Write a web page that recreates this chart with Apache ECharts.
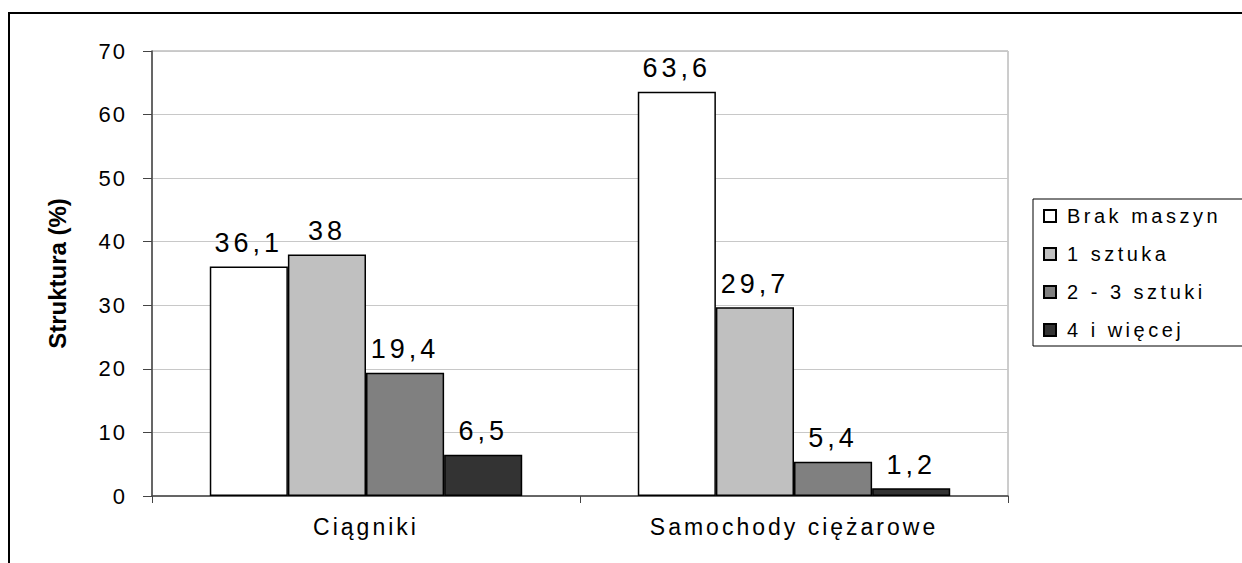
<!DOCTYPE html>
<html><head><meta charset="utf-8">
<script src="https://cdn.jsdelivr.net/npm/echarts@6/dist/echarts.min.js"></script>
<style>
html,body{margin:0;padding:0;background:#fff}#c{width:1242px;height:563px}
#c text[style*="27px"]{letter-spacing:4px}
#c text[style*="23px"]{letter-spacing:3px}
#c text[style*="22px"]{letter-spacing:2px}
#c text[style*="20px"]{letter-spacing:3.5px}
</style>
</head><body><div id="c"></div>
<script>
const categories = ['Ciągniki', 'Samochody ciężarowe'];
const seriesNames = ['Brak maszyn', '1 sztuka', '2 - 3 sztuki', '4 i więcej'];
const brakMaszyn = [36.1, 63.6];
const jednaSztuka = [38, 29.7];
const dwieTrzySztuki = [19.4, 5.4];
const czteryIWiecej = [6.5, 1.2];
const yTicks = [0, 10, 20, 30, 40, 50, 60, 70];

const values = [brakMaszyn, jednaSztuka, dwieTrzySztuki, czteryIWiecej];
const colors = ['#FFFFFF', '#C0C0C0', '#808080', '#333333'];
const font = 'Liberation Sans, Arial, sans-serif';

const chart = echarts.init(document.getElementById('c'), null, {renderer: 'svg'});
chart.setOption({
  animation: false,
  backgroundColor: '#fff',
  graphic: [{
    type: 'rect', z: -1, silent: true,
    shape: {x: 9, y: 13, width: 1300, height: 600},
    style: {fill: 'none', stroke: '#000', lineWidth: 2}
  }],
  grid: {left: 152, right: 234, top: 51, bottom: 67, containLabel: false,
         show: true, borderWidth: 1, borderColor: '#9A9A9A'},
  legend: {
    orient: 'vertical', left: 1033, top: 199,
    padding: [7, 80, 6, 10],
    itemGap: 18, itemWidth: 12, itemHeight: 12,
    borderColor: '#000', borderWidth: 1,
    icon: 'rect',
    data: seriesNames,
    textStyle: {fontFamily: font, fontSize: 20, color: '#000', padding: [0, 0, 0, 6]}
  },
  xAxis: {
    type: 'category', data: categories,
    axisLine: {lineStyle: {color: '#444', width: 1.5}},
    axisTick: {show: true, length: 7, lineStyle: {color: '#444'}},
    axisLabel: {fontFamily: font, fontSize: 23, color: '#000', margin: 19},
    splitLine: {show: false}
  },
  yAxis: {
    type: 'value', min: yTicks[0], max: yTicks[yTicks.length - 1], interval: 10,
    name: 'Struktura (%)', nameLocation: 'middle', nameGap: 83,
    nameTextStyle: {fontFamily: font, fontWeight: 'bold', fontSize: 24, color: '#000'},
    axisLine: {show: true, lineStyle: {color: '#444', width: 1.5}},
    axisTick: {show: true, length: 9, lineStyle: {color: '#444'}},
    axisLabel: {fontFamily: font, fontSize: 22, color: '#000', margin: 25},
    splitLine: {show: true, lineStyle: {color: '#C8C8C8', width: 1}}
  },
  series: seriesNames.map((n, i) => ({
    name: n, type: 'bar', data: values[i],
    barGap: '0%', barCategoryGap: '27%',
    itemStyle: {color: colors[i], borderColor: '#000', borderWidth: 1.5},
    label: {show: true, position: 'top', distance: 10,
            fontFamily: font, fontSize: 27, color: '#000',
            formatter: p => String(p.value).replace('.', ',')}
  }))
});
</script></body></html>
